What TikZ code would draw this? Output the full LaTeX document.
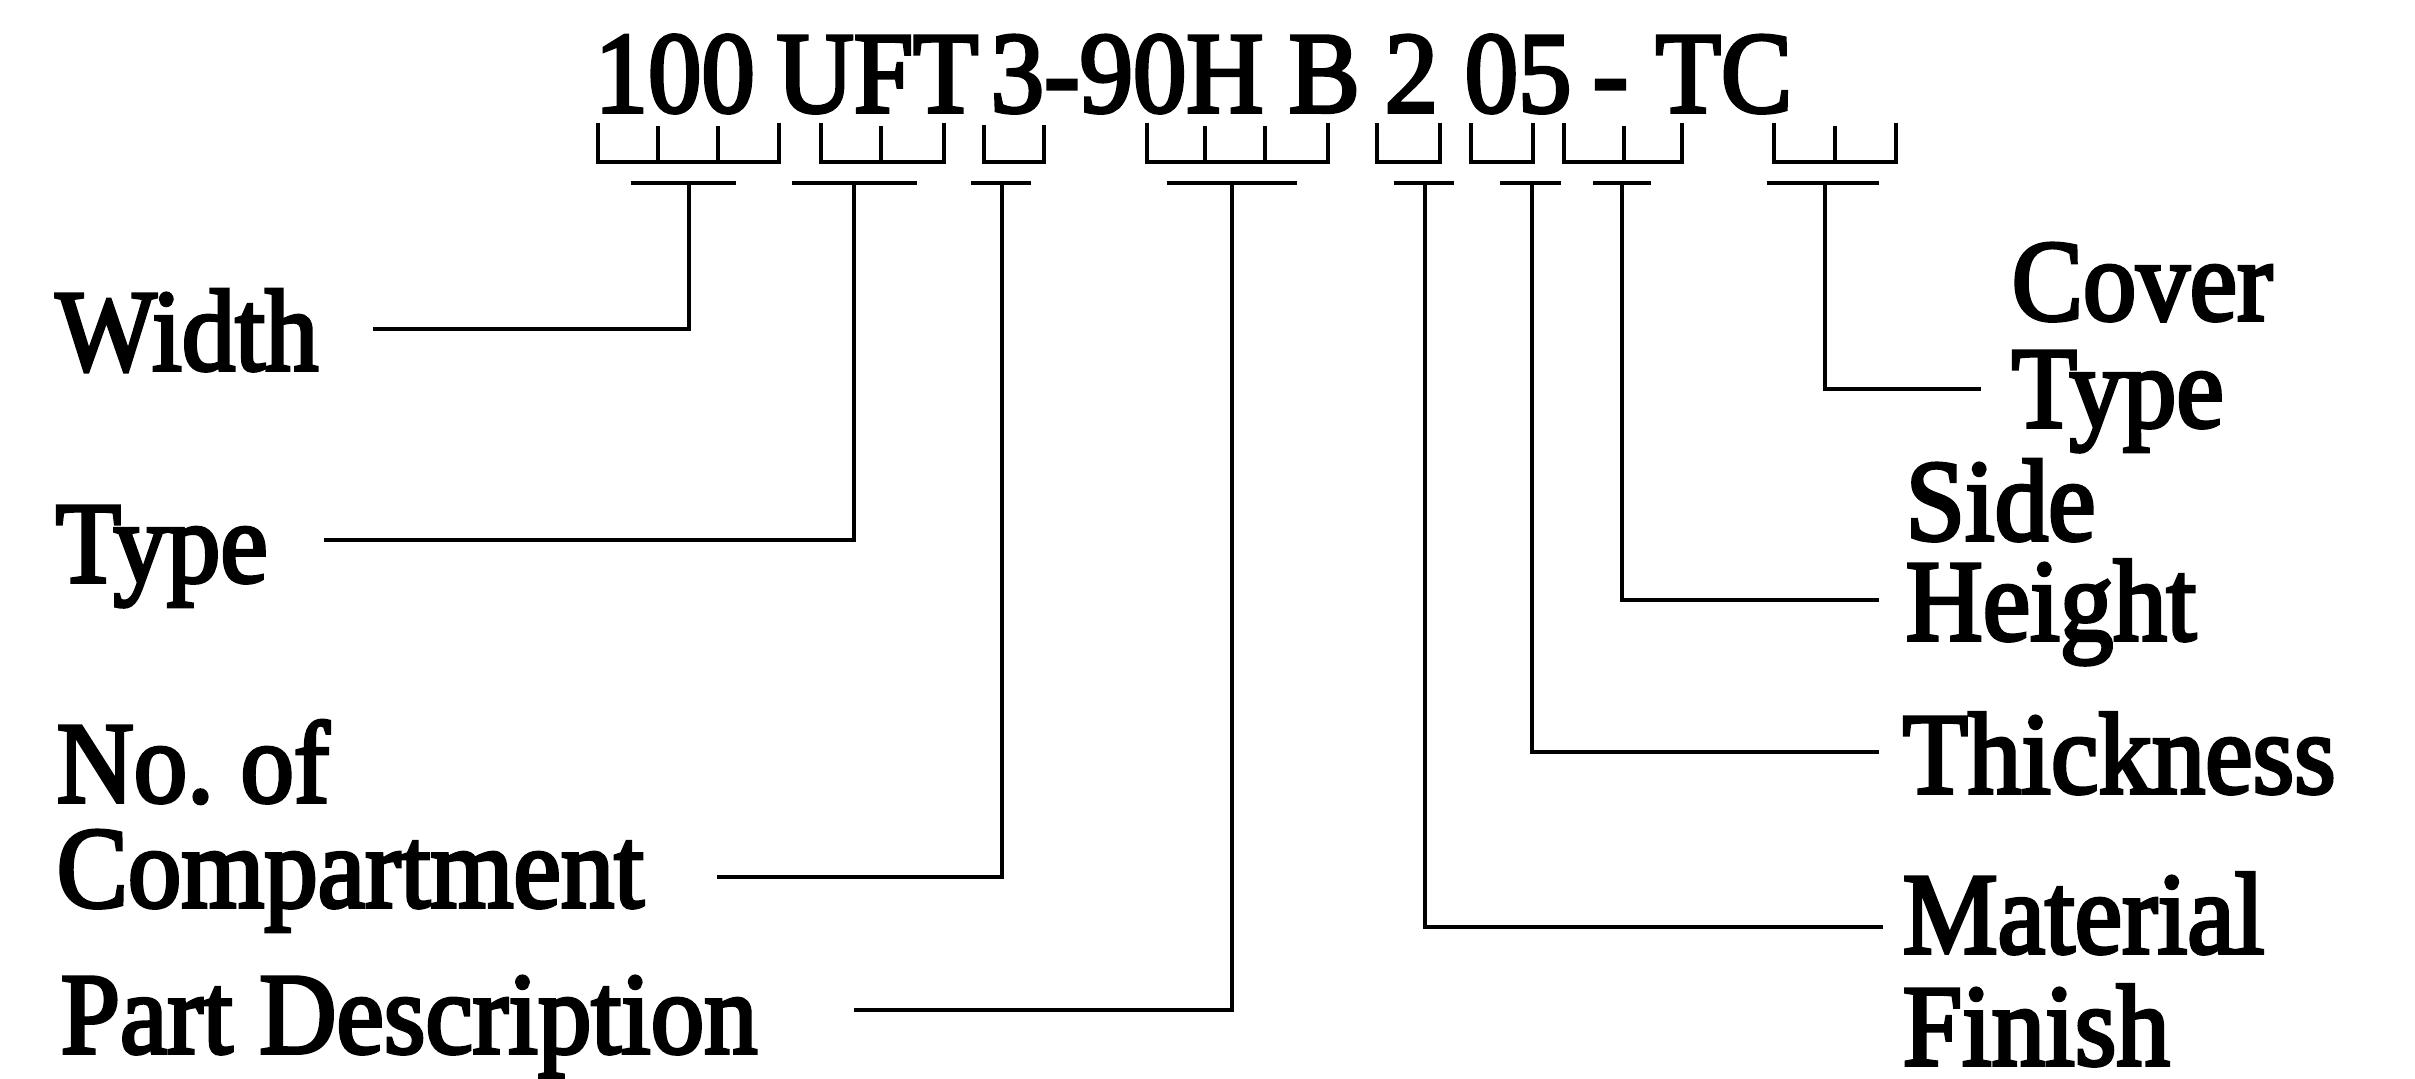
\documentclass[tikz,border=0pt]{standalone}
\usepackage{fontspec}
\setmainfont{Liberation Serif}[FakeStretch=0.92,FakeBold=3]
\begin{document}
\begin{tikzpicture}[x=0.01cm,y=-0.01cm]
\tikzset{
  lbl/.style={anchor=base west, inner sep=0pt, font=\fontsize{33}{40}\selectfont},
  ln/.style={line width=1pt, line join=miter},
}
\useasboundingbox (0,0) rectangle (2415,1078);
% title groups
\node[lbl] (t1) at (594,112) {100};
\node[lbl] (t2) at (776,112) {UFT};
\node[lbl] (t3) at (990,112) {3-90H};
\node[lbl] (t4) at (1288,112) {B};
\node[lbl] (t5) at (1384,112) {2};
\node[lbl] (t6) at (1464,112) {05};
\node[lbl] (t7) at (1592,112) {-};
\node[lbl] (t8) at (1655,112) {TC};
% brackets
\draw[ln] (598,123) -- (598,162) -- (779,162) -- (779,123);
\draw[ln] (658,162) -- (658,126) (718,162) -- (718,126);
\draw[ln] (821,123) -- (821,162) -- (944,162) -- (944,123);
\draw[ln] (881,162) -- (881,126);
\draw[ln] (984,125) -- (984,162) -- (1044,162) -- (1044,125);
\draw[ln] (1147,123) -- (1147,162) -- (1328,162) -- (1328,123);
\draw[ln] (1205,162) -- (1205,126) (1265,162) -- (1265,126);
\draw[ln] (1377,123) -- (1377,162) -- (1440,162) -- (1440,123);
\draw[ln] (1471,123) -- (1471,162) -- (1533,162) -- (1533,123);
\draw[ln] (1564,123) -- (1564,162) -- (1682,162) -- (1682,123);
\draw[ln] (1624,162) -- (1624,126);
\draw[ln] (1774,123) -- (1774,162) -- (1896,162) -- (1896,123);
\draw[ln] (1835,162) -- (1835,126);
% T bars
\draw[ln] (631,183) -- (736,183);
\draw[ln] (792,183) -- (917,183);
\draw[ln] (971,183) -- (1031,183);
\draw[ln] (1167,183) -- (1297,183);
\draw[ln] (1394,183) -- (1454,183);
\draw[ln] (1500,183) -- (1561,183);
\draw[ln] (1593,183) -- (1651,183);
\draw[ln] (1767,183) -- (1879,183);
\coordinate (b1) at (689,183);
\coordinate (b2) at (854,183);
\coordinate (b3) at (1002,183);
\coordinate (b4) at (1232,183);
\coordinate (b5) at (1425,183);
\coordinate (b6) at (1532,183);
\coordinate (b7) at (1622,183);
\coordinate (b8) at (1825,183);
% labels
\node[lbl] (width) at (55,370) {Width};
\node[lbl] (type) at (55,582) {Type};
\node[lbl] (noof) at (56,802) {No.\ of};
\node[lbl] (comp) at (56,907) {Compartment};
\node[lbl] (part) at (60,1053) {Part Description};
\node[lbl] (cover) at (2011,320) {Cover};
\node[lbl] (ctype) at (2011,427) {Type};
\node[lbl] (side) at (1905,540) {Side};
\node[lbl] (height) at (1905,640) {Height};
\node[lbl] (thick) at (1902,793) {Thickness};
\node[lbl] (mat) at (1902,953) {Material};
\node[lbl] (fin) at (1902,1065) {Finish};
% line ends
\coordinate (ew) at (373,329);
\coordinate (et) at (324,540);
\coordinate (ec) at (717,877);
\coordinate (ep) at (854,1010);
\coordinate (em) at (1883,927);
\coordinate (eth) at (1879,752);
\coordinate (eh) at (1879,600);
\coordinate (ect) at (1981,389);
% connectors
\draw[ln] (b1) |- (ew);
\draw[ln] (b2) |- (et);
\draw[ln] (b3) |- (ec);
\draw[ln] (b4) |- (ep);
\draw[ln] (b5) |- (em);
\draw[ln] (b6) |- (eth);
\draw[ln] (b7) |- (eh);
\draw[ln] (b8) |- (ect);
\end{tikzpicture}
\end{document}
